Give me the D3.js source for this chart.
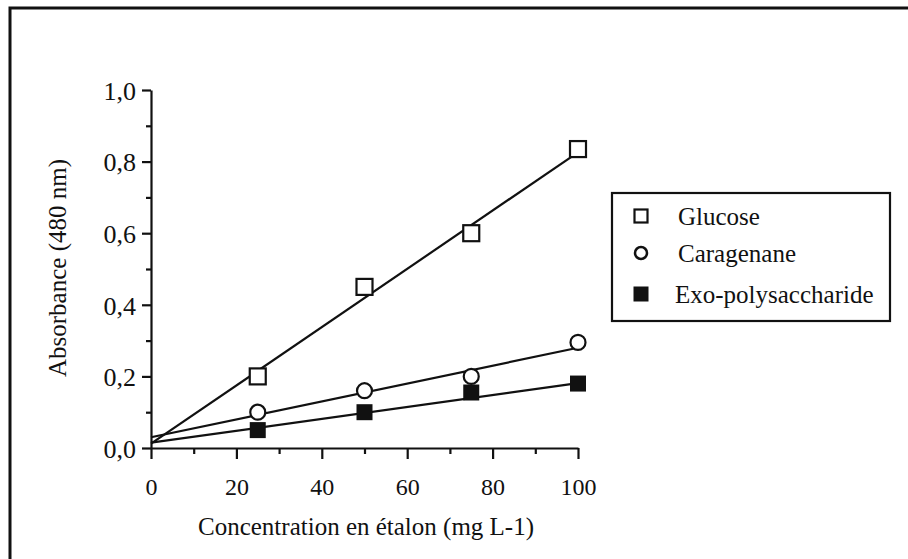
<!DOCTYPE html>
<html>
<head>
<meta charset="utf-8">
<script src="https://cdn.jsdelivr.net/npm/d3@7"></script>
<style>
  body { margin: 0; background: #fff; }
  svg text { font-family: "Liberation Serif", "Times New Roman", serif; fill: #111; }
</style>
</head>
<body>
<div id="chart"></div>
<script>
// concentrations (mg L-1)
var conc = [25, 50, 75, 100];
// absorbance at 480 nm
var glucose = [0.20, 0.45, 0.60, 0.835];
var caragenane = [0.10, 0.16, 0.20, 0.295];
var exo = [0.05, 0.10, 0.155, 0.18];
// regression lines read at x = 0 and x = 100
var fitX = [0, 100];
var glucoseFit = [0.012, 0.826];
var caragenaneFit = [0.03, 0.28];
var exoFit = [0.015, 0.181];

var names = ["Glucose", "Caragenane", "Exo-polysaccharide"];
var xMajor = [0, 20, 40, 60, 80, 100];
var xMinor = [10, 30, 50, 70, 90];
var yMajor = [0, 0.2, 0.4, 0.6, 0.8, 1.0];
var yMinor = [0.1, 0.3, 0.5, 0.7, 0.9];

(function () {
    var width = 908, height = 559;
    var svg = d3.select("#chart").append("svg")
        .attr("width", width).attr("height", height);

    // page frame (only left and top edges show in the scan)
    svg.append("path")
        .attr("d", "M10,559 L10,8 L908,8")
        .style("fill", "none")
        .style("stroke", "#111")
        .style("stroke-width", 3);

    var x = d3.scaleLinear().domain([0, 100]).range([151, 578]);
    var y = d3.scaleLinear().domain([0, 1]).range([448, 90]);

    var fr = d3.formatLocale({ decimal: ",", thousands: " ", grouping: [3], currency: ["", ""] });
    var fmt = fr.format(".1f");

    // y axis
    var gy = svg.append("g").attr("transform", "translate(" + x(0) + ",0)");
    gy.call(d3.axisLeft(y).tickValues(yMajor).tickFormat(fmt).tickSize(9).tickSizeOuter(0).tickPadding(6));
    gy.append("g").call(d3.axisLeft(y).tickValues(yMinor).tickFormat("").tickSize(5).tickSizeOuter(0))
        .select(".domain").remove();

    // x axis
    var gx = svg.append("g").attr("transform", "translate(0," + y(0) + ")");
    gx.call(d3.axisBottom(x).tickValues(xMajor).tickSize(11).tickSizeOuter(0).tickPadding(19));
    gx.append("g").call(d3.axisBottom(x).tickValues(xMinor).tickFormat("").tickSize(6).tickSizeOuter(0))
        .select(".domain").remove();

    svg.selectAll(".domain, .tick line")
        .style("stroke", "#111")
        .style("stroke-width", 2.2);
    svg.selectAll(".tick text")
        .style("font-size", "24px")
        .style("font-family", "'Liberation Serif', serif")
        .style("fill", "#111");
    gy.selectAll(".tick text").attr("dy", "0.36em").style("font-size", "26px");

    // axis titles
    svg.append("text")
        .attr("x", 366).attr("y", 535)
        .attr("text-anchor", "middle")
        .style("font-size", "25px")
        .text("Concentration en étalon (mg L-1)");

    svg.append("text")
        .attr("transform", "translate(66,268)rotate(-90)")
        .attr("text-anchor", "middle")
        .style("font-size", "25px")
        .text("Absorbance (480 nm)");

    // fitted lines
    var line = d3.line()
        .x(function (d) { return x(d[0]); })
        .y(function (d) { return y(d[1]); });
    [glucoseFit, caragenaneFit, exoFit].forEach(function (f) {
        svg.append("path")
            .datum(fitX.map(function (v, i) { return [v, f[i]]; }))
            .attr("d", line)
            .style("fill", "none")
            .style("stroke", "#111")
            .style("stroke-width", 2.2);
    });

    // markers
    var sq = 16;
    svg.selectAll(".glu").data(conc).enter().append("rect")
        .attr("x", function (d) { return x(d) - sq / 2; })
        .attr("y", function (d, i) { return y(glucose[i]) - sq / 2; })
        .attr("width", sq).attr("height", sq)
        .style("fill", "#fff").style("stroke", "#111").style("stroke-width", 2.2);

    svg.selectAll(".car").data(conc).enter().append("circle")
        .attr("cx", function (d) { return x(d); })
        .attr("cy", function (d, i) { return y(caragenane[i]); })
        .attr("r", 7.5)
        .style("fill", "#fff").style("stroke", "#111").style("stroke-width", 2.2);

    var fs = 16;
    svg.selectAll(".exo").data(conc).enter().append("rect")
        .attr("x", function (d) { return x(d) - fs / 2; })
        .attr("y", function (d, i) { return y(exo[i]) - fs / 2; })
        .attr("width", fs).attr("height", fs)
        .style("fill", "#111");

    // legend
    var lg = svg.append("g");
    lg.append("rect")
        .attr("x", 612).attr("y", 193).attr("width", 278).attr("height", 128)
        .style("fill", "#fff").style("stroke", "#111").style("stroke-width", 2.2);

    var rowY = [216, 253, 294];
    lg.append("rect")
        .attr("x", 641 - 6.5).attr("y", rowY[0] - 6.5).attr("width", 13).attr("height", 13)
        .style("fill", "#fff").style("stroke", "#111").style("stroke-width", 2.2);
    lg.append("circle")
        .attr("cx", 641).attr("cy", rowY[1]).attr("r", 6)
        .style("fill", "#fff").style("stroke", "#111").style("stroke-width", 2.5);
    lg.append("rect")
        .attr("x", 641 - 7.5).attr("y", rowY[2] - 7.5).attr("width", 15).attr("height", 15)
        .style("fill", "#111");

    lg.selectAll(".lt").data(names).enter().append("text")
        .attr("x", function (d, i) { return i === 2 ? 675 : 678; })
        .attr("y", function (d, i) { return rowY[i] + 9; })
        .style("font-size", "25px")
        .text(function (d) { return d; });
}());
</script>
</body>
</html>
